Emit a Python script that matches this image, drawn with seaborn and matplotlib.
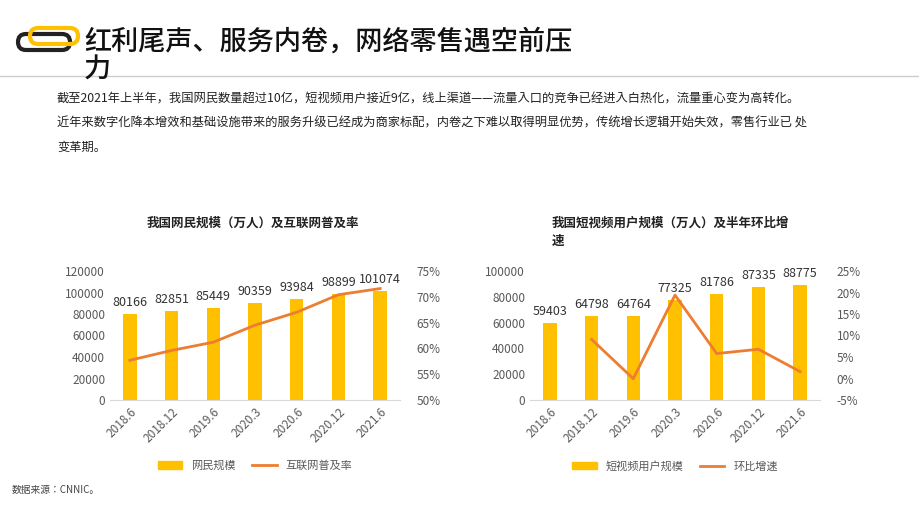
import matplotlib
matplotlib.use("Agg")
import matplotlib.pyplot as plt
import seaborn as sns
import pandas as pd
from matplotlib.patches import FancyBboxPatch
from matplotlib.lines import Line2D
from matplotlib.patches import Patch

plt.rcParams["font.family"] = ["Noto Sans CJK JP", "Noto Sans CJK SC", "DejaVu Sans"]

dates = ["2018.6", "2018.12", "2019.6", "2020.3", "2020.6", "2020.12", "2021.6"]
netizens = [80166, 82851, 85449, 90359, 93984, 98899, 101074]
penetration = [57.7, 59.6, 61.2, 64.5, 67.0, 70.4, 71.6]
short_video = [59403, 64798, 64764, 77325, 81786, 87335, 88775]
sv_growth = [None, 9.1, -0.05, 19.4, 5.8, 6.8, 1.6]

BAR = "#FFC000"
LINE = "#ED7D31"
TXT = "#595959"

fig = plt.figure(figsize=(9.2, 5.18), dpi=100)

ax0 = fig.add_axes([0, 0, 1, 1])
ax0.set_xlim(0, 920); ax0.set_ylim(518, 0); ax0.axis("off")
ax0.add_patch(FancyBboxPatch((18, 34), 52, 16, boxstyle="round,pad=0,rounding_size=8",
                             fill=False, ec="#222222", lw=3))
ax0.add_patch(FancyBboxPatch((30, 28), 48, 16, boxstyle="round,pad=0,rounding_size=8",
                             fill=False, ec="#FFC000", lw=3))
ax0.text(84, 42, "红利尾声、服务内卷，网络零售遇空前压", fontsize=19.5, color="#111111",
         va="center", fontweight="medium")
ax0.text(84, 70, "力", fontsize=19.5, color="#111111", va="center", fontweight="medium")
ax0.plot([0, 920], [76, 76], color="#cccccc", lw=1)
para = ["截至2021年上半年，我国网民数量超过10亿，短视频用户接近9亿，线上渠道——流量入口的竞争已经进入白热化，流量重心变为高转化。",
        "近年来数字化降本增效和基础设施带来的服务升级已经成为商家标配，内卷之下难以取得明显优势，传统增长逻辑开始失效，零售行业已 处",
        "变革期。"]
for i, s in enumerate(para):
    ax0.text(57, 99 + i * 24, s, fontsize=8.8, color="#222222", va="center")
ax0.text(12, 490, "数据来源：CNNIC。", fontsize=7, color="#444444", va="center")
ax0.text(253, 223, "我国网民规模（万人）及互联网普及率", fontsize=9, fontweight="bold",
         ha="center", va="center", color="#222222")
ax0.text(552, 223, "我国短视频用户规模（万人）及半年环比增", fontsize=9, fontweight="bold",
         va="center", color="#222222")
ax0.text(552, 241, "速", fontsize=9, fontweight="bold", va="center", color="#222222")

def panel(left, bars, line, ymax, yticks, pmin, pmax, pticks, bname, lname):
    W, H = 920, 518
    ax = fig.add_axes([left / W, 1 - 400 / H, 290 / W, 129 / H])
    df = pd.DataFrame({"d": dates, "v": bars})
    sns.barplot(data=df, x="d", y="v", color=BAR, width=0.32, ax=ax, saturation=1)
    ax.set_ylim(0, ymax)
    ax.set_yticks(yticks)
    ax.set_xlabel(""); ax.set_ylabel("")
    for s in ["top", "right", "left"]:
        ax.spines[s].set_visible(False)
    ax.spines["bottom"].set_color("#d9d9d9")
    ax.tick_params(length=0, labelsize=8.5, colors=TXT)
    ax.tick_params(axis="x", rotation=45, pad=4)
    for lab in ax.get_xticklabels():
        lab.set_ha("right"); lab.set_rotation_mode("anchor")
    for i, v in enumerate(bars):
        ax.text(i, v + ymax * 0.04, str(v), ha="center", va="bottom", fontsize=9, color="#333333")
    ax2 = ax.twinx()
    xs = [i for i, p in enumerate(line) if p is not None]
    ys = [p for p in line if p is not None]
    sns.lineplot(x=xs, y=ys, color=LINE, lw=2, ax=ax2)
    ax2.set_ylim(pmin, pmax)
    ax2.set_yticks(pticks)
    ax2.set_yticklabels([f"{t}%" for t in pticks])
    for s in ax2.spines.values():
        s.set_visible(False)
    ax2.tick_params(length=0, labelsize=8.5, colors=TXT, pad=12)
    handles = [Patch(color=BAR), Line2D([], [], color=LINE, lw=2)]
    fig.legend(handles, [bname, lname], loc="center",
               bbox_to_anchor=((left + 145) / W, 1 - 466 / H), ncol=2, frameon=False,
               fontsize=8, labelcolor=TXT, handlelength=2.2, columnspacing=1.5)

panel(110, netizens, penetration, 120000, [0, 20000, 40000, 60000, 80000, 100000, 120000],
      50, 75, [50, 55, 60, 65, 70, 75], "网民规模", "互联网普及率")
panel(530, short_video, sv_growth, 100000, [0, 20000, 40000, 60000, 80000, 100000],
      -5, 25, [-5, 0, 5, 10, 15, 20, 25], "短视频用户规模", "环比增速")

fig.savefig("out.png", dpi=100)
